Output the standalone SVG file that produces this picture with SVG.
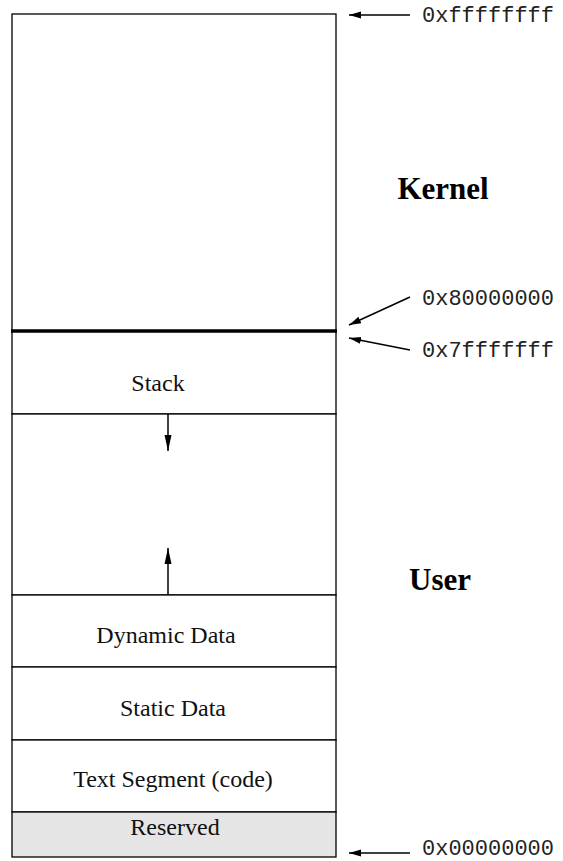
<svg xmlns="http://www.w3.org/2000/svg" width="563" height="861" viewBox="0 0 563 861">
<defs>
<marker id="ah" viewBox="0 0 10 10" refX="10" refY="5" markerWidth="12" markerHeight="10" markerUnits="userSpaceOnUse" orient="auto" preserveAspectRatio="none">
<path d="M0,1.5 L10,5 L0,8.5 Z" fill="#000"/>
</marker>
<marker id="ah2" viewBox="0 0 10 10" refX="10" refY="5" markerWidth="16" markerHeight="10" markerUnits="userSpaceOnUse" orient="auto" preserveAspectRatio="none">
<path d="M0,1.5 L10,5 L0,8.5 Z" fill="#000"/>
</marker>
<style>
.box{fill:#fff;stroke:#000;stroke-width:1.3}
.lbl{font-family:"Liberation Serif","Times New Roman",serif;font-size:24px;text-anchor:middle;fill:#111}
.big{font-family:"Liberation Serif","Times New Roman",serif;font-size:31px;font-weight:bold;text-anchor:middle;fill:#000}
.addr{font-family:"Liberation Mono","Courier New",monospace;font-size:22px;fill:#222}
.conn{stroke:#000;stroke-width:1.5;fill:none}
</style>
</defs>
<rect x="0" y="0" width="563" height="861" fill="#fff"/>
<g id="kernel">
<rect class="box" x="12" y="14" width="324" height="317"/>
<text class="big" x="443" y="199">Kernel</text>
</g>
<g id="stack">
<rect class="box" x="12" y="331" width="324" height="83"/>
<text class="lbl" x="158" y="391">Stack</text>
</g>
<g id="free">
<rect class="box" x="12" y="414" width="324" height="181"/>
<text class="big" x="440" y="590">User</text>
</g>
<g id="dynamic">
<rect class="box" x="12" y="595" width="324" height="72"/>
<text class="lbl" x="166" y="643">Dynamic Data</text>
</g>
<g id="static">
<rect class="box" x="12" y="667" width="324" height="73"/>
<text class="lbl" x="173" y="716">Static Data</text>
</g>
<g id="text">
<rect class="box" x="12" y="740" width="324" height="72"/>
<text class="lbl" x="173" y="787">Text Segment (code)</text>
</g>
<g id="reserved">
<rect class="box" x="12" y="812" width="324" height="45" style="fill:#e5e5e5"/>
<text class="lbl" x="175" y="835">Reserved</text>
</g>
<line x1="11" y1="331" x2="337" y2="331" stroke="#000" stroke-width="3.5"/>
<g id="connectors">
<line class="conn" x1="168" y1="414" x2="168" y2="451" marker-end="url(#ah2)"/>
<line class="conn" x1="168" y1="595" x2="168" y2="548" marker-end="url(#ah2)"/>
<line class="conn" x1="410" y1="15" x2="349" y2="15" marker-end="url(#ah)"/>
<line class="conn" x1="410" y1="297" x2="349" y2="325" marker-end="url(#ah)"/>
<line class="conn" x1="410" y1="350" x2="349" y2="338" marker-end="url(#ah)"/>
<line class="conn" x1="410" y1="853" x2="349" y2="853" marker-end="url(#ah)"/>
</g>
<g id="addresses">
<text class="addr" x="422" y="22">0xffffffff</text>
<text class="addr" x="422" y="305">0x80000000</text>
<text class="addr" x="422" y="357">0x7fffffff</text>
<text class="addr" x="422" y="855">0x00000000</text>
</g>
</svg>
